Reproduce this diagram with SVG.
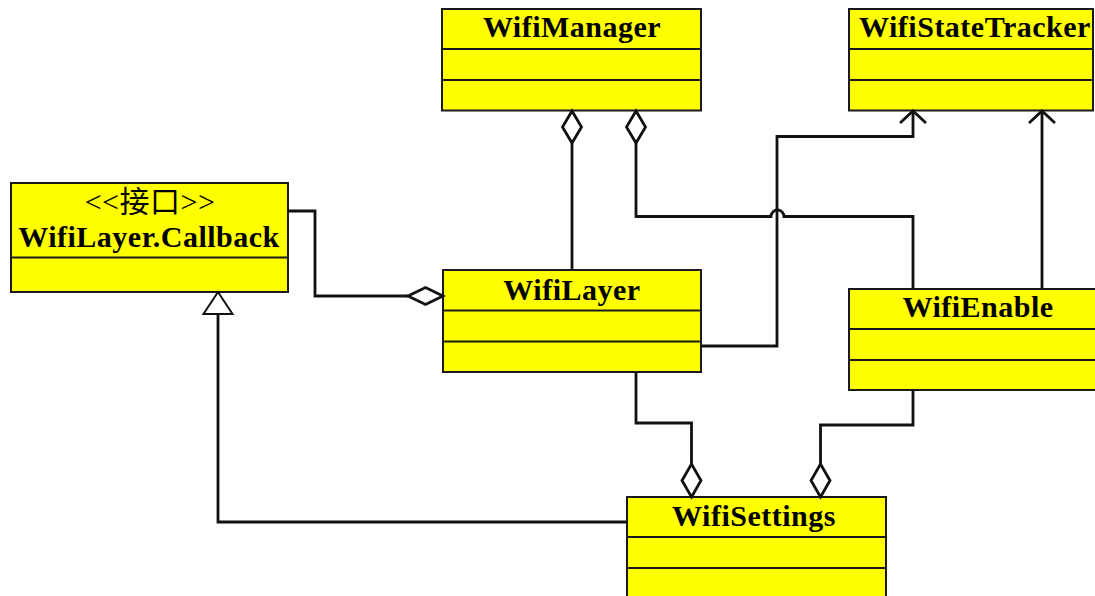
<svg xmlns="http://www.w3.org/2000/svg" width="1095" height="596" viewBox="0 0 1095 596">
<style>
.box{fill:#ffff00;stroke:#1a1a1a;stroke-width:2}
.div{stroke:#1a1a1a;stroke-width:2}
.t{font-family:"Liberation Serif","Times New Roman",serif;font-size:30px;font-weight:bold;fill:#000;text-anchor:middle;letter-spacing:0.5px}
.s{font-family:"Liberation Serif","Noto Sans CJK SC",serif;font-size:30px;fill:#000;text-anchor:middle;letter-spacing:0.5px}
.c{fill:none;stroke:#111;stroke-width:2.8}
.dia{fill:#fff;stroke:#111;stroke-width:2.8}
</style>
<rect width="1095" height="596" fill="#fff"/>
<g id="WifiManager">
<rect class="box" x="442" y="9" width="259" height="101.5"/>
<line class="div" x1="442" y1="49" x2="701" y2="49"/>
<line class="div" x1="442" y1="80" x2="701" y2="80"/>
<text class="t" x="572" y="37">WifiManager</text>
</g>
<g id="WifiStateTracker">
<rect class="box" x="849" y="9" width="244" height="101.5"/>
<line class="div" x1="849" y1="49" x2="1093" y2="49"/>
<line class="div" x1="849" y1="80" x2="1093" y2="80"/>
<text class="t" x="975" y="37">WifiStateTracker</text>
</g>
<g id="WifiLayerCallback">
<rect class="box" x="11" y="183" width="277" height="109"/>
<line class="div" x1="11" y1="257.5" x2="288" y2="257.5"/>
<text class="s" x="150" y="212">&lt;&lt;接口&gt;&gt;</text>
<text class="t" x="149" y="247">WifiLayer.Callback</text>
</g>
<g id="WifiLayer">
<rect class="box" x="443" y="270" width="258" height="102"/>
<line class="div" x1="443" y1="310.5" x2="701" y2="310.5"/>
<line class="div" x1="443" y1="341.5" x2="701" y2="341.5"/>
<text class="t" x="572" y="300">WifiLayer</text>
</g>
<g id="WifiEnable">
<rect class="box" x="849" y="289" width="260" height="101"/>
<line class="div" x1="849" y1="329" x2="1109" y2="329"/>
<line class="div" x1="849" y1="360" x2="1109" y2="360"/>
<text class="t" x="978" y="317">WifiEnable</text>
</g>
<g id="WifiSettings">
<rect class="box" x="627" y="497" width="259" height="120"/>
<line class="div" x1="627" y1="537" x2="886" y2="537"/>
<line class="div" x1="627" y1="568" x2="886" y2="568"/>
<text class="t" x="754" y="526">WifiSettings</text>
</g>
<g id="connectors">
<path class="c" d="M572 143 V270"/>
<polygon class="dia" points="572,111 581.5,127 572,143 562.5,127"/>
<path class="c" d="M636 143 V216.5 H771 A6.5 6.5 0 0 1 784 216.5 H913 V289"/>
<polygon class="dia" points="636,111 645.5,127 636,143 626.5,127"/>
<path class="c" d="M701 346 H777 V136.5 H913 V111"/>
<path class="c" d="M900 123 L913 111 L926 123"/>
<path class="c" d="M1042 289 V111"/>
<path class="c" d="M1029 123 L1042 111 L1055 123"/>
<path class="c" d="M288 211 H315 V296 H408"/>
<polygon class="dia" points="443,296 425.5,287.5 408,296 425.5,304.5"/>
<path class="c" d="M636 372 V423 H691.5 V464"/>
<polygon class="dia" points="691.5,497 701,480.5 691.5,464 682,480.5"/>
<path class="c" d="M913 390 V425 H820.5 V464"/>
<polygon class="dia" points="820.5,497 830,480.5 820.5,464 811,480.5"/>
<path class="c" d="M627 522 H218 V314"/>
<polygon class="dia" points="218,292 232.5,314 203.5,314" style="stroke-width:2"/>
</g>
</svg>
